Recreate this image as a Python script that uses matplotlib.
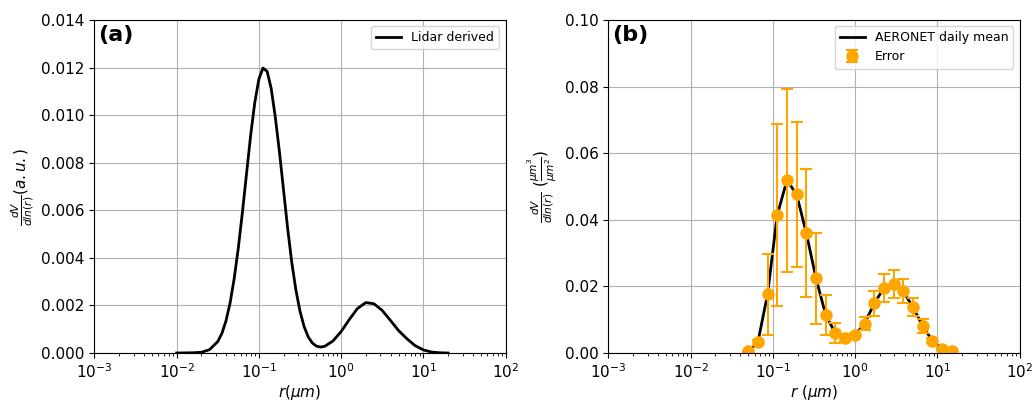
import numpy as np
import matplotlib
matplotlib.use("Agg")
import matplotlib.pyplot as plt

# lidar-derived volume size distribution (arbitrary units)
lidar_r = [0.010, 0.0158, 0.020, 0.0251, 0.0316, 0.0355, 0.0398, 0.0447, 0.0501,
           0.0562, 0.0631, 0.0708, 0.0794, 0.0891, 0.100, 0.112, 0.126, 0.141,
           0.158, 0.178, 0.200, 0.224, 0.251, 0.282, 0.316, 0.355, 0.398, 0.447,
           0.501, 0.562, 0.631, 0.794, 1.00, 1.26, 1.58, 2.00, 2.51, 3.16, 3.98,
           5.01, 6.31, 7.94, 10.0, 12.6, 15.8, 20.0]
lidar_dv = [0.0, 0.00001, 0.00003, 0.00014, 0.00048, 0.00082, 0.00135, 0.00211,
            0.00313, 0.00441, 0.00592, 0.00754, 0.00914, 0.01052, 0.01151, 0.01198,
            0.01184, 0.01113, 0.00995, 0.00845, 0.00682, 0.00523, 0.00382, 0.00265,
            0.00176, 0.00111, 0.00068, 0.00042, 0.00029, 0.00025, 0.00028, 0.00050,
            0.00090, 0.00141, 0.00187, 0.00212, 0.00207, 0.00179, 0.00137, 0.00094,
            0.00060, 0.00031, 0.00013, 0.00004, 0.00001, 0.0]

# AERONET inversion bins (22 radii, 0.05-15 um)
aeronet_r = [0.050000, 0.065604, 0.086077, 0.112939, 0.148184, 0.194429, 0.255105,
             0.334716, 0.439173, 0.576227, 0.756052, 0.991996, 1.301571, 1.707757,
             2.240702, 2.939966, 3.857452, 5.061260, 6.640745, 8.713145, 11.432287,
             15.000000]
aeronet_dv = [0.0005, 0.0032, 0.0176, 0.0414, 0.0519, 0.0476, 0.0360, 0.0224,
              0.0114, 0.0059, 0.0044, 0.0053, 0.0088, 0.0149, 0.0195, 0.0207,
              0.0185, 0.0137, 0.0081, 0.0037, 0.0012, 0.0005]
aeronet_err = [0.0002, 0.0008, 0.0121, 0.0273, 0.0275, 0.0217, 0.0193, 0.0137,
               0.0060, 0.0030, 0.0008, 0.0006, 0.0020, 0.0037, 0.0043, 0.0043,
               0.0036, 0.0027, 0.0021, 0.0008, 0.0003, 0.0002]

fig = plt.figure(figsize=(10.33, 4.0), dpi=100)
ax1 = fig.add_axes([0.0914, 0.1175, 0.398, 0.8325])
ax2 = fig.add_axes([0.589, 0.1175, 0.398, 0.8325])

ax1.plot(lidar_r, lidar_dv, color="black", lw=2, label="Lidar derived")
ax1.set_xscale("log")
ax1.set_xlim(1e-3, 1e2)
ax1.set_ylim(0, 0.014)
ax1.set_xlabel(r"$r(\mu m)$", fontsize=11, labelpad=1)
ax1.set_ylabel(r"$\frac{dV}{dln(r)} (a.u.)$", fontsize=11, labelpad=4)
ax1.grid(True)
ax1.legend(loc="upper right", fontsize=9)
ax1.text(0.01, 0.985, "(a)", transform=ax1.transAxes, fontsize=16,
         fontweight="bold", va="top", ha="left")

ax2.plot(aeronet_r, aeronet_dv, color="black", lw=2, label="AERONET daily mean")
ax2.errorbar(aeronet_r, aeronet_dv, yerr=aeronet_err, fmt="o", color="orange",
             ms=8, capsize=4, elinewidth=1.5, capthick=1.5, label="Error")
ax2.set_xscale("log")
ax2.set_xlim(1e-3, 1e2)
ax2.set_ylim(0, 0.1)
ax2.set_xlabel(r"$r\ (\mu m)$", fontsize=11, labelpad=1)
ax2.set_ylabel(r"$\frac{dV}{dln(r)}\ (\frac{\mu m^3}{\mu m^2})$", fontsize=11,
               labelpad=4)
ax2.grid(True)
ax2.legend(loc="upper right", fontsize=9)
ax2.text(0.01, 0.985, "(b)", transform=ax2.transAxes, fontsize=16,
         fontweight="bold", va="top", ha="left")

for ax in (ax1, ax2):
    ax.tick_params(labelsize=11)

fig.savefig("out.png", dpi=100)
